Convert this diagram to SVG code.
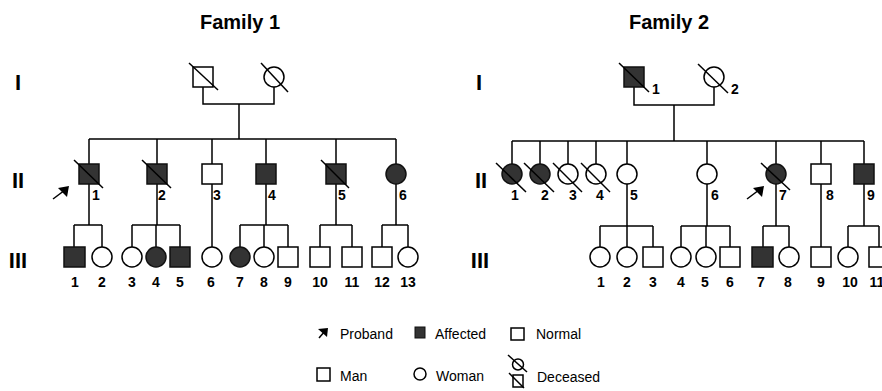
<svg xmlns="http://www.w3.org/2000/svg" width="882" height="391" viewBox="0 0 882 391">
<style>
.ln{fill:none;stroke:#000;stroke-width:1.5}
.n{fill:#fff;stroke:#000;stroke-width:1.5}
.a{fill:#333;stroke:#111;stroke-width:1.5}
.d{stroke:#000;stroke-width:1.5}
.title{font-family:"Liberation Sans",Arial,sans-serif;font-weight:bold;font-size:20px;text-anchor:middle}
.gen{font-family:"Liberation Sans",Arial,sans-serif;font-weight:bold;font-size:22px;text-anchor:middle}
.lab{font-family:"Liberation Sans",Arial,sans-serif;font-weight:bold;font-size:14px;text-anchor:middle}
.leg{font-family:"Liberation Sans",Arial,sans-serif;font-size:14px}
</style>
<defs>
<polygon id="ah" points="0,0 -11,2 -2,11"/>
</defs>
<rect width="882" height="391" fill="#fff"/>

<text class="title" x="240" y="29">Family 1</text>
<text class="title" x="669" y="29">Family 2</text>
<g id="gen-labels">
<text class="gen" x="18" y="90">I</text>
<text class="gen" x="18" y="188">II</text>
<text class="gen" x="18" y="268">III</text>
<text class="gen" x="479" y="90">I</text>
<text class="gen" x="481" y="188">II</text>
<text class="gen" x="480" y="268">III</text>
</g>

<g id="connectors">
<!-- Family 1 -->
<path class="ln" d="M203 87V104H274V87M239 104V139M89 139H396M89 139V164M157 139V164M212 139V164M266 139V164M336 139V164M396 139V164"/>
<path class="ln" d="M89 184V225M74 225H102M74 225V247M102 225V247"/>
<path class="ln" d="M157 184V225M132 225H180M132 225V247M156 225V247M180 225V247"/>
<path class="ln" d="M212 184V247"/>
<path class="ln" d="M266 184V225M240 225H288M240 225V247M264 225V247M288 225V247"/>
<path class="ln" d="M336 184V225M320 225H352M320 225V247M352 225V247"/>
<path class="ln" d="M396 184V225M382 225H408M382 225V247M408 225V247"/>
<!-- Family 2 -->
<path class="ln" d="M634 87V105H714V87M674 105V141M512 141H864M512 141V164M540 141V164M568 141V164M596 141V164M627 141V164M707 141V164M776 141V164M821 141V164M864 141V164"/>
<path class="ln" d="M627 184V226M600 226H653M600 226V247M627 226V247M653 226V247"/>
<path class="ln" d="M707 184V226M681 226H730M681 226V247M706 226V247M730 226V247"/>
<path class="ln" d="M776 184V226M763 226H789M763 226V247M789 226V247"/>
<path class="ln" d="M821 184V247"/>
<path class="ln" d="M864 184V226M848 226H879M848 226V247M879 226V247"/>
</g>

<!-- Family 1 nodes -->
<g id="f1-I-1"><rect class="n" x="193" y="67" width="20" height="20"/><line class="d" x1="189" y1="63" x2="218" y2="90"/></g>
<g id="f1-I-2"><circle class="n" cx="274" cy="77" r="10"/><line class="d" x1="261" y1="63" x2="288" y2="92"/></g>

<g id="f1-II-1"><rect class="a" x="79" y="164" width="20" height="20"/><line class="d" x1="74" y1="160" x2="103" y2="188"/><text class="lab" x="96" y="200">1</text></g>
<g id="f1-II-2"><rect class="a" x="147" y="164" width="20" height="20"/><line class="d" x1="142" y1="160" x2="171" y2="188"/><text class="lab" x="162" y="200">2</text></g>
<g id="f1-II-3"><rect class="n" x="202" y="164" width="20" height="20"/><text class="lab" x="217" y="200">3</text></g>
<g id="f1-II-4"><rect class="a" x="256" y="164" width="20" height="20"/><text class="lab" x="272" y="200">4</text></g>
<g id="f1-II-5"><rect class="a" x="326" y="164" width="20" height="20"/><line class="d" x1="321" y1="160" x2="349" y2="188"/><text class="lab" x="342" y="200">5</text></g>
<g id="f1-II-6"><circle class="a" cx="396" cy="174" r="10"/><text class="lab" x="403" y="200">6</text></g>
<g id="f1-proband"><line class="d" x1="53" y1="199" x2="65" y2="190"/><use href="#ah" x="69" y="186"/></g>

<g id="f1-III-1"><rect class="a" x="64" y="247" width="21" height="20"/><text class="lab" x="75" y="287">1</text></g>
<g id="f1-III-2"><circle class="n" cx="102" cy="257" r="10"/><text class="lab" x="102" y="287">2</text></g>
<g id="f1-III-3"><circle class="n" cx="132" cy="257" r="10"/><text class="lab" x="132" y="287">3</text></g>
<g id="f1-III-4"><circle class="a" cx="156" cy="257" r="10"/><text class="lab" x="156" y="287">4</text></g>
<g id="f1-III-5"><rect class="a" x="170" y="247" width="20" height="20"/><text class="lab" x="180" y="287">5</text></g>
<g id="f1-III-6"><circle class="n" cx="212" cy="257" r="10"/><text class="lab" x="211" y="287">6</text></g>
<g id="f1-III-7"><circle class="a" cx="240" cy="257" r="10"/><text class="lab" x="240" y="287">7</text></g>
<g id="f1-III-8"><circle class="n" cx="264" cy="257" r="10"/><text class="lab" x="264" y="287">8</text></g>
<g id="f1-III-9"><rect class="n" x="278" y="247" width="20" height="20"/><text class="lab" x="288" y="287">9</text></g>
<g id="f1-III-10"><rect class="n" x="310" y="247" width="20" height="20"/><text class="lab" x="320" y="287">10</text></g>
<g id="f1-III-11"><rect class="n" x="342" y="247" width="20" height="20"/><text class="lab" x="352" y="287">11</text></g>
<g id="f1-III-12"><rect class="n" x="372" y="247" width="20" height="20"/><text class="lab" x="382" y="287">12</text></g>
<g id="f1-III-13"><circle class="n" cx="408" cy="257" r="10"/><text class="lab" x="408" y="287">13</text></g>

<!-- Family 2 nodes -->
<g id="f2-I-1"><rect class="a" x="624" y="67" width="20" height="20"/><line class="d" x1="619" y1="63" x2="649" y2="92"/><text class="lab" x="656" y="94">1</text></g>
<g id="f2-I-2"><circle class="n" cx="714" cy="77" r="10"/><line class="d" x1="698" y1="64" x2="728" y2="93"/><text class="lab" x="735" y="94">2</text></g>

<g id="f2-II-1"><circle class="a" cx="512" cy="174" r="10"/><line class="d" x1="496" y1="163" x2="526" y2="192"/><text class="lab" x="515" y="200">1</text></g>
<g id="f2-II-2"><circle class="a" cx="540" cy="174" r="10"/><line class="d" x1="524" y1="163" x2="554" y2="192"/><text class="lab" x="545" y="200">2</text></g>
<g id="f2-II-3"><circle class="n" cx="568" cy="174" r="10"/><line class="d" x1="553" y1="163" x2="582" y2="192"/><text class="lab" x="573" y="200">3</text></g>
<g id="f2-II-4"><circle class="n" cx="596" cy="174" r="10"/><line class="d" x1="581" y1="163" x2="610" y2="192"/><text class="lab" x="600" y="200">4</text></g>
<g id="f2-II-5"><circle class="n" cx="627" cy="174" r="10"/><text class="lab" x="634" y="200">5</text></g>
<g id="f2-II-6"><circle class="n" cx="707" cy="174" r="10"/><text class="lab" x="715" y="200">6</text></g>
<g id="f2-II-7"><circle class="a" cx="776" cy="174" r="10"/><line class="d" x1="761" y1="163" x2="790" y2="190"/><text class="lab" x="783" y="200">7</text></g>
<g id="f2-II-8"><rect class="n" x="811" y="164" width="20" height="20"/><text class="lab" x="830" y="200">8</text></g>
<g id="f2-II-9"><rect class="a" x="854" y="164" width="20" height="20"/><text class="lab" x="871" y="200">9</text></g>
<g id="f2-proband"><line class="d" x1="747" y1="199" x2="759" y2="190"/><use href="#ah" x="764" y="186"/></g>

<g id="f2-III-1"><circle class="n" cx="600" cy="257" r="10"/><text class="lab" x="601" y="287">1</text></g>
<g id="f2-III-2"><circle class="n" cx="627" cy="257" r="10"/><text class="lab" x="627" y="287">2</text></g>
<g id="f2-III-3"><rect class="n" x="643" y="247" width="20" height="20"/><text class="lab" x="653" y="287">3</text></g>
<g id="f2-III-4"><circle class="n" cx="681" cy="257" r="10"/><text class="lab" x="681" y="287">4</text></g>
<g id="f2-III-5"><circle class="n" cx="706" cy="257" r="10"/><text class="lab" x="705" y="287">5</text></g>
<g id="f2-III-6"><rect class="n" x="720" y="247" width="20" height="20"/><text class="lab" x="730" y="287">6</text></g>
<g id="f2-III-7"><rect class="a" x="752" y="247" width="21" height="20"/><text class="lab" x="761" y="287">7</text></g>
<g id="f2-III-8"><circle class="n" cx="789" cy="257" r="10"/><text class="lab" x="788" y="287">8</text></g>
<g id="f2-III-9"><rect class="n" x="811" y="247" width="20" height="20"/><text class="lab" x="821" y="287">9</text></g>
<g id="f2-III-10"><circle class="n" cx="848" cy="257" r="10"/><text class="lab" x="850" y="287">10</text></g>
<g id="f2-III-11"><rect class="n" x="869" y="247" width="20" height="20"/><text class="lab" x="877" y="287">11</text></g>

<!-- Legend -->
<g id="legend">
<line class="d" x1="319" y1="338" x2="325" y2="331"/>
<polygon points="328,328 318,329 327,337"/>
<text class="leg" x="340" y="339">Proband</text>
<rect x="415" y="327" width="10" height="11" fill="#333" stroke="#111"/>
<text class="leg" x="435" y="339">Affected</text>
<rect class="n" x="511" y="328" width="13" height="12" stroke-width="1.3"/>
<text class="leg" x="536" y="339">Normal</text>
<rect class="n" x="317" y="368" width="13" height="13" stroke-width="1.3"/>
<text class="leg" x="340" y="381">Man</text>
<circle class="n" cx="420" cy="374" r="6" stroke-width="1.5"/>
<text class="leg" x="436" y="381">Woman</text>
<circle class="n" cx="518" cy="364.5" r="5.5" stroke-width="1.5"/>
<line class="d" x1="508" y1="355" x2="527" y2="372"/>
<rect class="n" x="513" y="375" width="10" height="12" stroke-width="1.3"/>
<line class="d" x1="509" y1="373" x2="524" y2="388"/>
<text class="leg" x="537" y="382">Deceased</text>
</g>
</svg>
